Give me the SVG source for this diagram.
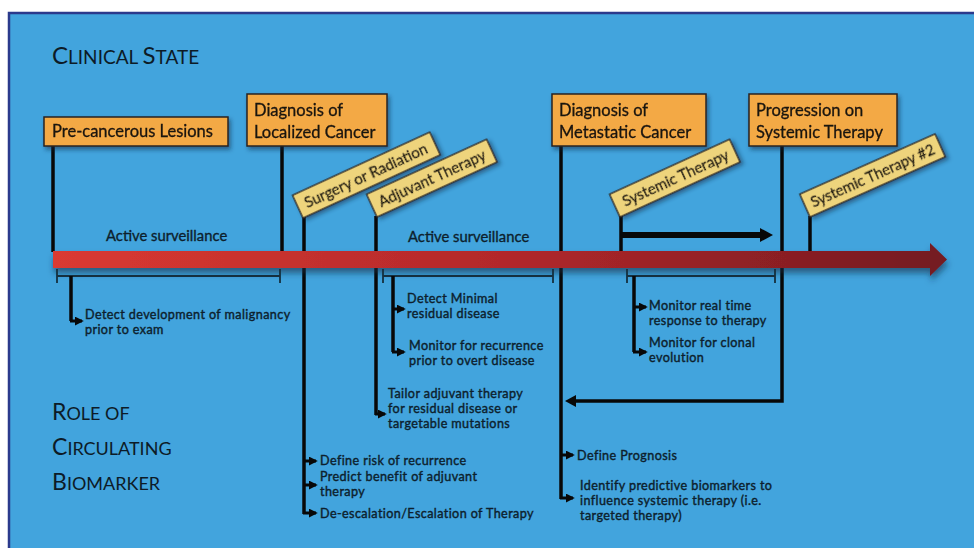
<svg xmlns="http://www.w3.org/2000/svg" width="974" height="548" viewBox="0 0 974 548">
<defs>
<style>
.hd{font-family:Lato,"Open Sans",sans-serif;fill:#0d1b27}
.bx{fill:#F3A945;stroke:#2a2320;stroke-width:1.5}
.bt{font-family:Lato,"Open Sans",sans-serif;font-size:16.5px;fill:#1a1410;stroke:#1a1410;stroke-width:0.3}
.tl{fill:#EED47C;stroke:#2a2320;stroke-width:1.3}
.tt{font-family:Lato,"Open Sans",sans-serif;font-size:15px;fill:#1a1410;stroke:#1a1410;stroke-width:0.3}
.t{font-family:Lato,"Open Sans",sans-serif;font-size:12.6px;letter-spacing:0.4px;fill:#0d1f2d;stroke:#0d1f2d;stroke-width:0.4}
.as{font-family:Lato,"Open Sans",sans-serif;font-size:14.8px;fill:#0d1f2d;stroke:#0d1f2d;stroke-width:0.35}
.vl{stroke:#080808;stroke-width:3.5;fill:none}
.ar{stroke:#080808;stroke-width:3;fill:none;marker-end:url(#ah)}
.br{stroke:#15303f;stroke-width:1.8;fill:none}
</style>
<marker id="ah" viewBox="0 0 10 10" refX="8" refY="5" markerWidth="3" markerHeight="3" orient="auto" markerUnits="strokeWidth">
<path d="M0,0 L10,5 L0,10 z" fill="#080808"/>
</marker>
<linearGradient id="tg" x1="0" y1="0" x2="1" y2="0">
<stop offset="0" stop-color="#DA3A31"/>
<stop offset="0.5" stop-color="#B3282B"/>
<stop offset="1" stop-color="#731A20"/>
</linearGradient>
<filter id="sh" x="-10%" y="-30%" width="120%" height="180%">
<feDropShadow dx="2" dy="3" stdDeviation="2" flood-color="#0b2a45" flood-opacity="0.55"/>
</filter>
<filter id="sh2" x="-5%" y="-50%" width="110%" height="250%">
<feDropShadow dx="1" dy="5" stdDeviation="3" flood-color="#0b2a45" flood-opacity="0.6"/>
</filter>
</defs>
<rect x="0" y="0" width="974" height="548" fill="#ffffff"/>
<rect x="9" y="13" width="975" height="545" fill="#42A4DD" stroke="#2B3A8C" stroke-width="2.5"/>

<g id="headings">
<text class="hd" x="52" y="64" font-size="24">C<tspan font-size="19">LINICAL </tspan>S<tspan font-size="19">TATE</tspan></text>
<text class="hd" x="52" y="420" font-size="23">R<tspan font-size="18">OLE OF</tspan></text>
<text class="hd" x="52" y="455" font-size="23">C<tspan font-size="18">IRCULATING</tspan></text>
<text class="hd" x="52" y="490" font-size="23">B<tspan font-size="18">IOMARKER</tspan></text>
</g>

<g id="connectors">
<path class="vl" d="M53 146 V252"/>
<path class="vl" d="M282 146 V252"/>
<path class="vl" d="M561 146 V499"/>
<path class="vl" d="M782 146 V401 H574"/>
<path d="M576 395 L565 401 L576 407 z" fill="#080808"/>
<path class="vl" d="M304 217 V514"/>
<path class="vl" d="M376 216 V415"/>
<path class="vl" d="M621 216 V252"/>
<path class="vl" d="M810 216 V252"/>
<path d="M621 235 H762" stroke="#080808" stroke-width="6" fill="none"/>
<path d="M760 228 L773 235 L760 242 z" fill="#080808"/>
<g filter="url(#sh2)">
<path d="M53 251 H930 V243 L947 259.5 L930 276 V268 H53 z" fill="url(#tg)"/>
</g>
<path class="br" d="M57 276 H280 M57 269 V283 M280 269 V283"/>
<path class="br" d="M383 276 H553 M383 269 V283 M553 269 V283"/>
<path class="br" d="M627 276 H775 M627 269 V283 M775 269 V283"/>
<path class="vl" d="M71 276 V321"/>
<path class="ar" d="M70 321 H82"/>
<path class="vl" d="M393 276 V352"/>
<path class="ar" d="M392 309 H404"/>
<path class="ar" d="M392 352 H404"/>
<path class="vl" d="M634 276 V352"/>
<path class="ar" d="M633 307 H646"/>
<path class="ar" d="M633 352 H646"/>
<path class="ar" d="M375 414 H385"/>
<path class="ar" d="M303 461 H316"/>
<path class="ar" d="M303 485 H316"/>
<path class="ar" d="M303 513 H316"/>
<path class="ar" d="M560 455 H573"/>
<path class="ar" d="M560 498 H573"/>
</g>

<g id="node-precancer" filter="url(#sh)">
<rect class="bx" x="44" y="117" width="184" height="29"/>
<text class="bt" x="52" y="137">Pre-cancerous Lesions</text>
</g>
<g id="node-localized" filter="url(#sh)">
<rect class="bx" x="247" y="94" width="140" height="52"/>
<text class="bt" x="254" y="116">Diagnosis of</text>
<text class="bt" x="254" y="138">Localized Cancer</text>
</g>
<g id="node-metastatic" filter="url(#sh)">
<rect class="bx" x="552" y="94" width="154" height="52"/>
<text class="bt" x="559" y="116">Diagnosis of</text>
<text class="bt" x="559" y="138">Metastatic Cancer</text>
</g>
<g id="node-progression" filter="url(#sh)">
<rect class="bx" x="749" y="94" width="148" height="52"/>
<text class="bt" x="756" y="116">Progression on</text>
<text class="bt" x="756" y="138">Systemic Therapy</text>
</g>

<g id="node-surgery" filter="url(#sh)" transform="translate(303,218) rotate(-24.7)">
<rect class="tl" x="0" y="-25" width="151" height="25"/>
<text class="tt" x="8" y="-7">Surgery or Radiation</text>
</g>
<g id="node-adjuvant" filter="url(#sh)" transform="translate(377,217) rotate(-24.6)">
<rect class="tl" x="0" y="-25" width="132" height="25"/>
<text class="tt" x="8" y="-7">Adjuvant Therapy</text>
</g>
<g id="node-systemic" filter="url(#sh)" transform="translate(620,217) rotate(-24.6)">
<rect class="tl" x="0" y="-25" width="132" height="25"/>
<text class="tt" x="9" y="-7">Systemic Therapy</text>
</g>
<g id="node-systemic2" filter="url(#sh)" transform="translate(810,217) rotate(-24)">
<rect class="tl" x="0" y="-25" width="148" height="25"/>
<text class="tt" x="7" y="-7" textLength="134" lengthAdjust="spacingAndGlyphs">Systemic Therapy #2</text>
</g>

<g id="labels">
<text class="as" x="106" y="241">Active surveillance</text>
<text class="as" x="408" y="242">Active surveillance</text>
<text class="t" x="85" y="319">Detect development of malignancy</text>
<text class="t" x="85" y="334">prior to exam</text>
<text class="t" x="407" y="303">Detect Minimal</text>
<text class="t" x="407" y="318">residual disease</text>
<text class="t" x="409" y="350">Monitor for recurrence</text>
<text class="t" x="409" y="365">prior to overt disease</text>
<text class="t" x="388" y="398">Tailor adjuvant therapy</text>
<text class="t" x="388" y="413">for residual disease or</text>
<text class="t" x="388" y="428">targetable mutations</text>
<text class="t" x="649" y="310">Monitor real time</text>
<text class="t" x="649" y="325">response to therapy</text>
<text class="t" x="649" y="347">Monitor for clonal</text>
<text class="t" x="649" y="362">evolution</text>
<text class="t" x="320" y="465">Define risk of recurrence</text>
<text class="t" x="320" y="481">Predict benefit of adjuvant</text>
<text class="t" x="320" y="496">therapy</text>
<text class="t" x="320" y="518">De-escalation/Escalation of Therapy</text>
<text class="t" x="577" y="460">Define Prognosis</text>
<text class="t" x="580" y="490">Identify predictive biomarkers to</text>
<text class="t" x="580" y="505">influence systemic therapy (i.e.</text>
<text class="t" x="580" y="520">targeted therapy)</text>
</g>
</svg>
